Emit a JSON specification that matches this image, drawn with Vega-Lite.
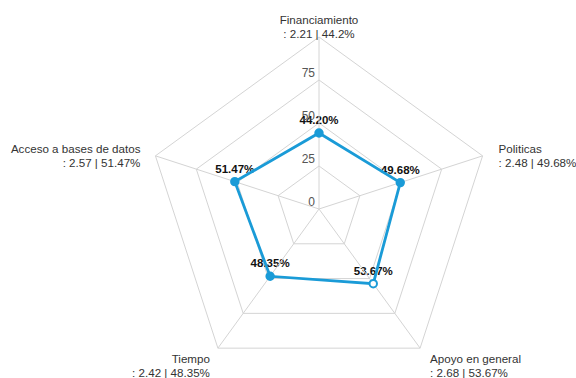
{
  "$schema": "https://vega.github.io/schema/vega-lite/v6.json",
  "width": 576,
  "height": 378,
  "padding": 0,
  "autosize": "none",
  "background": "white",
  "config": {"view": {"stroke": null}, "font": "Liberation Sans"},
  "datasets": {
    "main": [
      {"cat": "Financiamiento", "order": 0, "score": 2.21, "pct": 44.2},
      {"cat": "Politicas", "order": 1, "score": 2.48, "pct": 49.68},
      {"cat": "Apoyo en general", "order": 2, "score": 2.68, "pct": 53.67},
      {"cat": "Tiempo", "order": 3, "score": 2.42, "pct": 48.35},
      {"cat": "Acceso a bases de datos", "order": 4, "score": 2.57, "pct": 51.47}
    ],
    "grid": [
      {"level": 25, "i": 0}, {"level": 25, "i": 1}, {"level": 25, "i": 2}, {"level": 25, "i": 3}, {"level": 25, "i": 4},
      {"level": 50, "i": 0}, {"level": 50, "i": 1}, {"level": 50, "i": 2}, {"level": 50, "i": 3}, {"level": 50, "i": 4},
      {"level": 75, "i": 0}, {"level": 75, "i": 1}, {"level": 75, "i": 2}, {"level": 75, "i": 3}, {"level": 75, "i": 4},
      {"level": 100, "i": 0}, {"level": 100, "i": 1}, {"level": 100, "i": 2}, {"level": 100, "i": 3}, {"level": 100, "i": 4}
    ],
    "ticks": [
      {"level": 0, "label": "0"},
      {"level": 25, "label": "25"},
      {"level": 50, "label": "50"},
      {"level": 75, "label": "75"}
    ]
  },
  "layer": [
    {
      "data": {"name": "grid"},
      "transform": [
        {"calculate": "datum.i * 2 * PI / 5", "as": "a1"},
        {"calculate": "(datum.i + 1) * 2 * PI / 5", "as": "a2"},
        {"calculate": "datum.level * sin(datum.a1)", "as": "x1"},
        {"calculate": "datum.level * cos(datum.a1)", "as": "y1"},
        {"calculate": "datum.level * sin(datum.a2)", "as": "x2"},
        {"calculate": "datum.level * cos(datum.a2)", "as": "y2"}
      ],
      "mark": {"type": "rule", "color": "#d4d4d4", "strokeWidth": 1},
      "encoding": {
        "x": {"field": "x1", "type": "quantitative", "scale": {"domain": [-185.47, 149.42], "nice": false, "zero": false}, "axis": null},
        "y": {"field": "y1", "type": "quantitative", "scale": {"domain": [-98.26, 121.51], "nice": false, "zero": false}, "axis": null},
        "x2": {"field": "x2"},
        "y2": {"field": "y2"}
      }
    },
    {
      "data": {"name": "main"},
      "transform": [
        {"calculate": "datum.order * 2 * PI / 5", "as": "a"},
        {"calculate": "datum.pct * sin(datum.a)", "as": "px"},
        {"calculate": "datum.pct * cos(datum.a)", "as": "py"},
        {"calculate": "format(datum.pct, '.2f') + '%'", "as": "vlabel"}
      ],
      "mark": {"type": "text", "fontWeight": "bold", "fontSize": 11.5, "color": "#111", "dy": -12, "align": "center", "baseline": "middle"},
      "encoding": {
        "x": {"field": "px", "type": "quantitative"},
        "y": {"field": "py", "type": "quantitative"},
        "text": {"field": "vlabel", "type": "nominal"}
      }
    },
    {
      "data": {"name": "main"},
      "transform": [
        {"calculate": "datum.order * 2 * PI / 5", "as": "a"},
        {"calculate": "100 * sin(datum.a)", "as": "vx"},
        {"calculate": "100 * cos(datum.a)", "as": "vy"},
        {"calculate": "0", "as": "c0"}
      ],
      "mark": {"type": "rule", "color": "#d4d4d4", "strokeWidth": 1},
      "encoding": {
        "x": {"field": "c0", "type": "quantitative"},
        "y": {"field": "c0", "type": "quantitative"},
        "x2": {"field": "vx"},
        "y2": {"field": "vy"}
      }
    },
    {
      "data": {"name": "ticks"},
      "transform": [{"calculate": "0", "as": "c0"}],
      "mark": {"type": "text", "fontSize": 12, "color": "#555", "dx": -4, "dy": -7, "align": "right", "baseline": "middle"},
      "encoding": {
        "x": {"field": "c0", "type": "quantitative"},
        "y": {"field": "level", "type": "quantitative"},
        "text": {"field": "label", "type": "nominal"}
      }
    },
    {
      "data": {"name": "main"},
      "transform": [
        {"calculate": "datum.order * 2 * PI / 5", "as": "a"},
        {"calculate": "datum.pct * sin(datum.a)", "as": "px"},
        {"calculate": "datum.pct * cos(datum.a)", "as": "py"}
      ],
      "mark": {"type": "line", "interpolate": "linear-closed", "color": "#1a9bd7", "strokeWidth": 2.8},
      "encoding": {
        "x": {"field": "px", "type": "quantitative"},
        "y": {"field": "py", "type": "quantitative"},
        "order": {"field": "order", "type": "quantitative"}
      }
    },
    {
      "data": {"name": "main"},
      "transform": [
        {"calculate": "datum.order * 2 * PI / 5", "as": "a"},
        {"calculate": "datum.pct * sin(datum.a)", "as": "px"},
        {"calculate": "datum.pct * cos(datum.a)", "as": "py"},
        {"calculate": "datum.order == 2 ? 'hollow' : 'solid'", "as": "kind"}
      ],
      "mark": {"type": "point", "filled": false, "size": 55, "strokeWidth": 2, "stroke": "#1a9bd7", "opacity": 1},
      "encoding": {
        "x": {"field": "px", "type": "quantitative"},
        "y": {"field": "py", "type": "quantitative"},
        "fill": {"field": "kind", "type": "nominal", "scale": {"domain": ["hollow", "solid"], "range": ["white", "#1a9bd7"]}, "legend": null}
      }
    },
    {
      "data": {"name": "main"},
      "transform": [
        {"filter": "datum.order == 0"},
        {"calculate": "datum.order * 2 * PI / 5", "as": "a"},
        {"calculate": "100 * sin(datum.a)", "as": "vx"},
        {"calculate": "100 * cos(datum.a)", "as": "vy"},
        {"calculate": "[datum.cat, ': ' + datum.score + ' | ' + datum.pct + '%']", "as": "lab"}
      ],
      "mark": {"type": "text", "fontSize": 11.6, "color": "#333", "align": "center", "baseline": "middle", "dy": -16, "lineHeight": 14},
      "encoding": {"x": {"field": "vx", "type": "quantitative"}, "y": {"field": "vy", "type": "quantitative"}, "text": {"field": "lab", "type": "nominal"}}
    },
    {
      "data": {"name": "main"},
      "transform": [
        {"filter": "datum.order == 1"},
        {"calculate": "datum.order * 2 * PI / 5", "as": "a"},
        {"calculate": "100 * sin(datum.a)", "as": "vx"},
        {"calculate": "100 * cos(datum.a)", "as": "vy"},
        {"calculate": "[datum.cat, ': ' + datum.score + ' | ' + datum.pct + '%']", "as": "lab"}
      ],
      "mark": {"type": "text", "fontSize": 11.6, "color": "#333", "align": "left", "baseline": "middle", "dx": 16, "dy": -6, "lineHeight": 14},
      "encoding": {"x": {"field": "vx", "type": "quantitative"}, "y": {"field": "vy", "type": "quantitative"}, "text": {"field": "lab", "type": "nominal"}}
    },
    {
      "data": {"name": "main"},
      "transform": [
        {"filter": "datum.order == 2"},
        {"calculate": "datum.order * 2 * PI / 5", "as": "a"},
        {"calculate": "100 * sin(datum.a)", "as": "vx"},
        {"calculate": "100 * cos(datum.a)", "as": "vy"},
        {"calculate": "[datum.cat, ': ' + datum.score + ' | ' + datum.pct + '%']", "as": "lab"}
      ],
      "mark": {"type": "text", "fontSize": 11.6, "color": "#333", "align": "left", "baseline": "middle", "dx": 10, "dy": 12, "lineHeight": 14},
      "encoding": {"x": {"field": "vx", "type": "quantitative"}, "y": {"field": "vy", "type": "quantitative"}, "text": {"field": "lab", "type": "nominal"}}
    },
    {
      "data": {"name": "main"},
      "transform": [
        {"filter": "datum.order == 3"},
        {"calculate": "datum.order * 2 * PI / 5", "as": "a"},
        {"calculate": "100 * sin(datum.a)", "as": "vx"},
        {"calculate": "100 * cos(datum.a)", "as": "vy"},
        {"calculate": "[datum.cat, ': ' + datum.score + ' | ' + datum.pct + '%']", "as": "lab"}
      ],
      "mark": {"type": "text", "fontSize": 11.6, "color": "#333", "align": "right", "baseline": "middle", "dx": -8, "dy": 12, "lineHeight": 14},
      "encoding": {"x": {"field": "vx", "type": "quantitative"}, "y": {"field": "vy", "type": "quantitative"}, "text": {"field": "lab", "type": "nominal"}}
    },
    {
      "data": {"name": "main"},
      "transform": [
        {"filter": "datum.order == 4"},
        {"calculate": "datum.order * 2 * PI / 5", "as": "a"},
        {"calculate": "100 * sin(datum.a)", "as": "vx"},
        {"calculate": "100 * cos(datum.a)", "as": "vy"},
        {"calculate": "[datum.cat, ': ' + datum.score + ' | ' + datum.pct + '%']", "as": "lab"}
      ],
      "mark": {"type": "text", "fontSize": 11.6, "color": "#333", "align": "right", "baseline": "middle", "dx": -15, "dy": -6, "lineHeight": 14},
      "encoding": {"x": {"field": "vx", "type": "quantitative"}, "y": {"field": "vy", "type": "quantitative"}, "text": {"field": "lab", "type": "nominal"}}
    }
  ]
}
